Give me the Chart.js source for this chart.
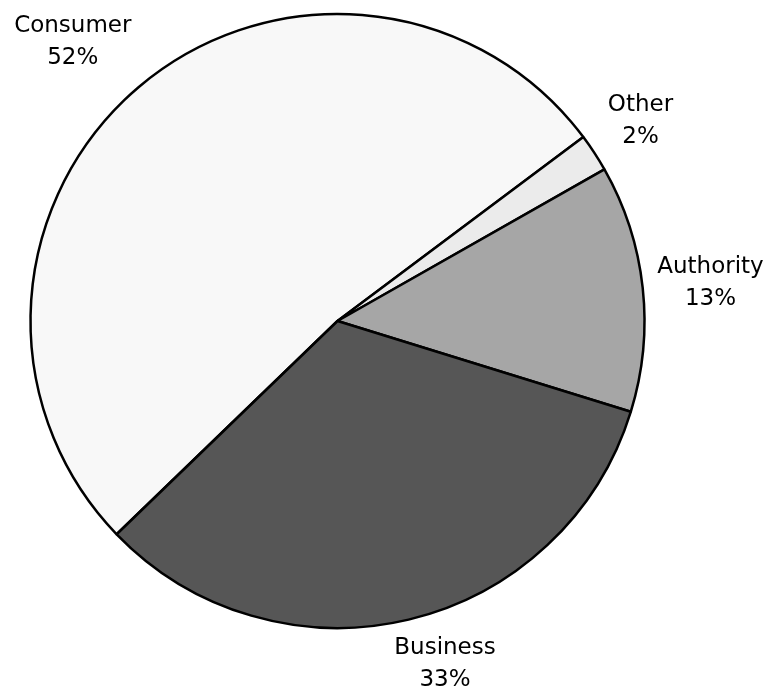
<!DOCTYPE html>
<html>
<head>
<meta charset="utf-8">
<script src="https://cdn.jsdelivr.net/npm/chart.js@4"></script>
<style>
  html, body { margin: 0; padding: 0; background: #fff; }
  #wrap { width: 769px; height: 691px; }
</style>
</head>
<body>
<div id="wrap"><canvas id="pieChart"></canvas></div>
<script>
const categories = ['Consumer', 'Other', 'Authority', 'Business'];
const shares = [52, 2, 13, 33];
const sliceColors = ['#f8f8f8', '#ebebeb', '#a6a6a6', '#565656'];

// draws "Name / NN%" outside each slice, kept inside the canvas
const outsideLabels = {
    id: 'outsideLabels',
    afterDraw(chart) {
        const ctx = chart.ctx;
        const arcs = chart.getDatasetMeta(0).data;
        const lineH = 32;
        ctx.save();
        ctx.font = '23px "DejaVu Sans"';
        ctx.fillStyle = '#000';
        ctx.textAlign = 'center';
        ctx.textBaseline = 'middle';
        arcs.forEach((arc, i) => {
            const p = arc.getProps(['x', 'y', 'startAngle', 'endAngle', 'outerRadius'], true);
            const mid = (p.startAngle + p.endAngle) / 2;
            const lines = [categories[i], shares[i] + '%'];
            const w = Math.max(...lines.map(t => ctx.measureText(t).width));
            const ux = Math.cos(mid), uy = Math.sin(mid);
            const r = p.outerRadius + 20;
            let x = p.x + ux * r + Math.max(-1, Math.min(1, 3 * ux)) * w / 2 * 0.9;
            let y = p.y + uy * r + uy * 42 + 2;
            y = Math.min(y, chart.height - 27);
            y = Math.max(y, 26);
            ctx.fillText(lines[0], x, y - lineH / 2);
            ctx.fillText(lines[1], x, y + lineH / 2);
        });
        ctx.restore();
    }
};

new Chart(document.getElementById('pieChart'), {
    type: 'pie',
    data: {
        labels: categories,
        datasets: [{
            data: shares,
            backgroundColor: sliceColors,
            borderColor: '#000',
            borderWidth: 2.5,
            borderAlign: 'center'
        }]
    },
    options: {
        responsive: true,
        maintainAspectRatio: false,
        animation: false,
        rotation: -134,
        radius: 307,
        layout: { padding: { left: 0, top: 0, right: 94, bottom: 49 } },
        plugins: {
            legend: { display: false },
            tooltip: { enabled: false }
        }
    },
    plugins: [outsideLabels]
});
</script>
</body>
</html>
